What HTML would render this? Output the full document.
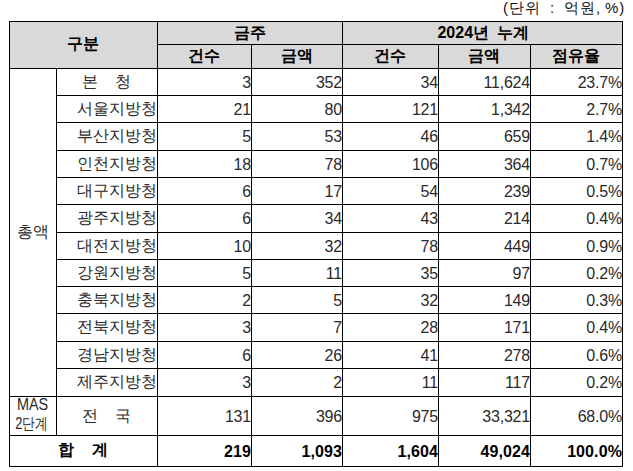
<!DOCTYPE html>
<html><head><meta charset="utf-8"><style>
html,body{margin:0;padding:0;background:#fff;width:633px;height:471px;overflow:hidden}
body{position:relative;font-family:"Liberation Sans",sans-serif;color:#2a2a2a;font-size:16px}
.h{color:#000}
i{position:absolute;background:#000;display:block}
b.g{position:absolute;background:#d9d9d9;display:block}
div{position:absolute;display:flex;align-items:center;white-space:nowrap;line-height:1}
.c{justify-content:center}
.r{justify-content:flex-end;padding-right:0px;box-sizing:border-box}
.h{font-weight:bold;color:#000}
.unit{left:0;top:0;width:626px;height:20px;justify-content:flex-end}
.mas1{transform:scaleX(0.9)}
.mas2{transform:scaleX(0.8);left:8px!important}
.lab.r{padding-right:0px}
div.n{padding-top:2px;box-sizing:border-box;letter-spacing:-0.2px}
div.n.h{letter-spacing:0.1px}
.up{padding-bottom:2px;box-sizing:border-box}
.u{top:-1px;height:17px;font-size:15px;color:#111;letter-spacing:1px}
</style></head><body>
<div class="u" style="left:503px">(단위</div><div class="u" style="left:550px">:</div><div class="u" style="left:564px">억원,</div><div class="u" style="left:605px">%)</div>
<b class="g" style="left:9px;top:21px;width:613px;height:47px"></b>
<i style="left:9px;top:21px;width:614px;height:1px"></i>
<i style="left:157px;top:44px;width:466px;height:1px"></i>
<i style="left:9px;top:68px;width:614px;height:1px"></i>
<i style="left:56px;top:95px;width:567px;height:1px"></i>
<i style="left:56px;top:122px;width:567px;height:1px"></i>
<i style="left:56px;top:150px;width:567px;height:1px"></i>
<i style="left:56px;top:177px;width:567px;height:1px"></i>
<i style="left:56px;top:204px;width:567px;height:1px"></i>
<i style="left:56px;top:232px;width:567px;height:1px"></i>
<i style="left:56px;top:259px;width:567px;height:1px"></i>
<i style="left:56px;top:286px;width:567px;height:1px"></i>
<i style="left:56px;top:313px;width:567px;height:1px"></i>
<i style="left:56px;top:341px;width:567px;height:1px"></i>
<i style="left:56px;top:368px;width:567px;height:1px"></i>
<i style="left:9px;top:396px;width:614px;height:1px"></i>
<i style="left:9px;top:435px;width:614px;height:1px"></i>
<i style="left:9px;top:466px;width:614px;height:1px"></i>
<i style="left:9px;top:21px;width:1px;height:446px"></i>
<i style="left:622px;top:21px;width:1px;height:446px"></i>
<i style="left:157px;top:21px;width:1px;height:446px"></i>
<i style="left:342px;top:21px;width:1px;height:446px"></i>
<i style="left:251px;top:44px;width:1px;height:423px"></i>
<i style="left:438px;top:44px;width:1px;height:423px"></i>
<i style="left:530px;top:44px;width:1px;height:423px"></i>
<i style="left:56px;top:68px;width:1px;height:368px"></i>
<div class="c h up" style="left:9px;top:21px;width:148px;height:47px;">구분</div>
<div class="c h" style="left:157px;top:21px;width:185px;height:23px;">금주</div>
<div class="c h" style="left:342px;top:21px;width:280px;height:23px;word-spacing:3px;padding-left:2px;box-sizing:border-box">2024년 누계</div>
<div class="c h" style="left:157px;top:44px;width:94px;height:24px;">건수</div>
<div class="c h" style="left:251px;top:44px;width:91px;height:24px;">금액</div>
<div class="c h" style="left:342px;top:44px;width:96px;height:24px;">건수</div>
<div class="c h" style="left:438px;top:44px;width:92px;height:24px;">금액</div>
<div class="c h" style="left:530px;top:44px;width:92px;height:24px;">점유율</div>
<div class="c" style="left:9px;top:68px;width:47px;height:328px;">총액</div>
<div class="c lab" style="left:56px;top:68px;width:101px;height:27px;">본&nbsp;&nbsp;&nbsp;&nbsp;청</div>
<div class="r n" style="left:157px;top:68px;width:94px;height:27px;">3</div>
<div class="r n" style="left:251px;top:68px;width:91px;height:27px;">352</div>
<div class="r n" style="left:342px;top:68px;width:96px;height:27px;">34</div>
<div class="r n" style="left:438px;top:68px;width:92px;height:27px;">11,624</div>
<div class="r n" style="left:530px;top:68px;width:92px;height:27px;">23.7%</div>
<div class="r lab" style="left:56px;top:95px;width:101px;height:27px;">서울지방청</div>
<div class="r n" style="left:157px;top:95px;width:94px;height:27px;">21</div>
<div class="r n" style="left:251px;top:95px;width:91px;height:27px;">80</div>
<div class="r n" style="left:342px;top:95px;width:96px;height:27px;">121</div>
<div class="r n" style="left:438px;top:95px;width:92px;height:27px;">1,342</div>
<div class="r n" style="left:530px;top:95px;width:92px;height:27px;">2.7%</div>
<div class="r lab" style="left:56px;top:122px;width:101px;height:28px;">부산지방청</div>
<div class="r n" style="left:157px;top:122px;width:94px;height:28px;">5</div>
<div class="r n" style="left:251px;top:122px;width:91px;height:28px;">53</div>
<div class="r n" style="left:342px;top:122px;width:96px;height:28px;">46</div>
<div class="r n" style="left:438px;top:122px;width:92px;height:28px;">659</div>
<div class="r n" style="left:530px;top:122px;width:92px;height:28px;">1.4%</div>
<div class="r lab" style="left:56px;top:150px;width:101px;height:27px;">인천지방청</div>
<div class="r n" style="left:157px;top:150px;width:94px;height:27px;">18</div>
<div class="r n" style="left:251px;top:150px;width:91px;height:27px;">78</div>
<div class="r n" style="left:342px;top:150px;width:96px;height:27px;">106</div>
<div class="r n" style="left:438px;top:150px;width:92px;height:27px;">364</div>
<div class="r n" style="left:530px;top:150px;width:92px;height:27px;">0.7%</div>
<div class="r lab" style="left:56px;top:177px;width:101px;height:27px;">대구지방청</div>
<div class="r n" style="left:157px;top:177px;width:94px;height:27px;">6</div>
<div class="r n" style="left:251px;top:177px;width:91px;height:27px;">17</div>
<div class="r n" style="left:342px;top:177px;width:96px;height:27px;">54</div>
<div class="r n" style="left:438px;top:177px;width:92px;height:27px;">239</div>
<div class="r n" style="left:530px;top:177px;width:92px;height:27px;">0.5%</div>
<div class="r lab" style="left:56px;top:204px;width:101px;height:28px;">광주지방청</div>
<div class="r n" style="left:157px;top:204px;width:94px;height:28px;">6</div>
<div class="r n" style="left:251px;top:204px;width:91px;height:28px;">34</div>
<div class="r n" style="left:342px;top:204px;width:96px;height:28px;">43</div>
<div class="r n" style="left:438px;top:204px;width:92px;height:28px;">214</div>
<div class="r n" style="left:530px;top:204px;width:92px;height:28px;">0.4%</div>
<div class="r lab" style="left:56px;top:232px;width:101px;height:27px;">대전지방청</div>
<div class="r n" style="left:157px;top:232px;width:94px;height:27px;">10</div>
<div class="r n" style="left:251px;top:232px;width:91px;height:27px;">32</div>
<div class="r n" style="left:342px;top:232px;width:96px;height:27px;">78</div>
<div class="r n" style="left:438px;top:232px;width:92px;height:27px;">449</div>
<div class="r n" style="left:530px;top:232px;width:92px;height:27px;">0.9%</div>
<div class="r lab" style="left:56px;top:259px;width:101px;height:27px;">강원지방청</div>
<div class="r n" style="left:157px;top:259px;width:94px;height:27px;">5</div>
<div class="r n" style="left:251px;top:259px;width:91px;height:27px;">11</div>
<div class="r n" style="left:342px;top:259px;width:96px;height:27px;">35</div>
<div class="r n" style="left:438px;top:259px;width:92px;height:27px;">97</div>
<div class="r n" style="left:530px;top:259px;width:92px;height:27px;">0.2%</div>
<div class="r lab" style="left:56px;top:286px;width:101px;height:27px;">충북지방청</div>
<div class="r n" style="left:157px;top:286px;width:94px;height:27px;">2</div>
<div class="r n" style="left:251px;top:286px;width:91px;height:27px;">5</div>
<div class="r n" style="left:342px;top:286px;width:96px;height:27px;">32</div>
<div class="r n" style="left:438px;top:286px;width:92px;height:27px;">149</div>
<div class="r n" style="left:530px;top:286px;width:92px;height:27px;">0.3%</div>
<div class="r lab" style="left:56px;top:313px;width:101px;height:28px;">전북지방청</div>
<div class="r n" style="left:157px;top:313px;width:94px;height:28px;">3</div>
<div class="r n" style="left:251px;top:313px;width:91px;height:28px;">7</div>
<div class="r n" style="left:342px;top:313px;width:96px;height:28px;">28</div>
<div class="r n" style="left:438px;top:313px;width:92px;height:28px;">171</div>
<div class="r n" style="left:530px;top:313px;width:92px;height:28px;">0.4%</div>
<div class="r lab" style="left:56px;top:341px;width:101px;height:27px;">경남지방청</div>
<div class="r n" style="left:157px;top:341px;width:94px;height:27px;">6</div>
<div class="r n" style="left:251px;top:341px;width:91px;height:27px;">26</div>
<div class="r n" style="left:342px;top:341px;width:96px;height:27px;">41</div>
<div class="r n" style="left:438px;top:341px;width:92px;height:27px;">278</div>
<div class="r n" style="left:530px;top:341px;width:92px;height:27px;">0.6%</div>
<div class="r lab" style="left:56px;top:368px;width:101px;height:28px;">제주지방청</div>
<div class="r n" style="left:157px;top:368px;width:94px;height:28px;">3</div>
<div class="r n" style="left:251px;top:368px;width:91px;height:28px;">2</div>
<div class="r n" style="left:342px;top:368px;width:96px;height:28px;">11</div>
<div class="r n" style="left:438px;top:368px;width:92px;height:28px;">117</div>
<div class="r n" style="left:530px;top:368px;width:92px;height:28px;">0.2%</div>
<div class="c mas1" style="left:9px;top:397px;width:47px;height:16px;">MAS</div>
<div class="c mas2" style="left:9px;top:415px;width:47px;height:18px;">2단계</div>
<div class="c lab" style="left:56px;top:396px;width:101px;height:39px;">전&nbsp;&nbsp;&nbsp;&nbsp;국</div>
<div class="r n" style="left:157px;top:396px;width:94px;height:39px;">131</div>
<div class="r n" style="left:251px;top:396px;width:91px;height:39px;">396</div>
<div class="r n" style="left:342px;top:396px;width:96px;height:39px;">975</div>
<div class="r n" style="left:438px;top:396px;width:92px;height:39px;">33,321</div>
<div class="r n" style="left:530px;top:396px;width:92px;height:39px;">68.0%</div>
<div class="c h up" style="left:9px;top:435px;width:148px;height:31px;">합&nbsp;&nbsp;&nbsp;&nbsp;계</div>
<div class="r n h" style="left:157px;top:435px;width:94px;height:31px;">219</div>
<div class="r n h" style="left:251px;top:435px;width:91px;height:31px;">1,093</div>
<div class="r n h" style="left:342px;top:435px;width:96px;height:31px;">1,604</div>
<div class="r n h" style="left:438px;top:435px;width:92px;height:31px;">49,024</div>
<div class="r n h" style="left:530px;top:435px;width:92px;height:31px;">100.0%</div>
</body></html>
